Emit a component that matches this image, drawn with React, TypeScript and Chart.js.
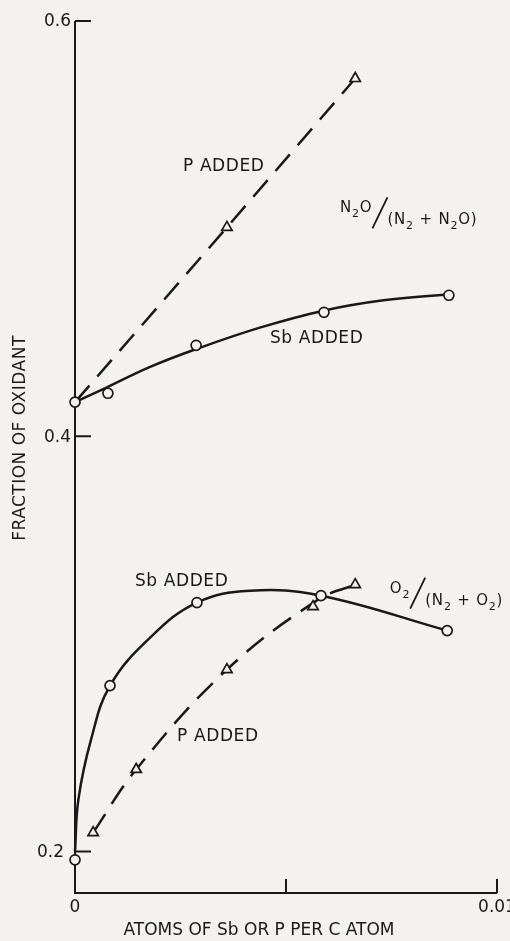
import React, { useEffect, useRef } from 'react';
import { Chart, registerables } from 'chart.js';

Chart.register(...registerables);

// ---------- axes ----------
const X_MIN = 0;
const X_MAX = 0.01;
const Y_MIN = 0.18;
const Y_MAX = 0.6;
const X_TICKS = [0, 0.005, 0.01];
const X_TICK_LABELS = ['0', '', '0.01'];
const Y_TICKS = [0.2, 0.4, 0.6];
const Y_TICK_LABELS = ['0.2', '0.4', '0.6'];
const X_TITLE = 'ATOMS OF Sb OR P PER C ATOM';
const Y_TITLE = 'FRACTION OF OXIDANT';

// ---------- N2O/(N2+N2O), Sb added (circles + solid curve) ----------
const n2oSbX = [0, 0.00078, 0.00287, 0.0059, 0.00886];
const n2oSbY = [0.4164, 0.4207, 0.4438, 0.4597, 0.4679];
const n2oSbCurveX = [0, 0.00077, 0.00178, 0.00286, 0.00438, 0.00591, 0.00731, 0.00886];
const n2oSbCurveY = [0.4164, 0.4237, 0.4334, 0.4419, 0.4523, 0.4606, 0.4655, 0.4684];

// ---------- N2O/(N2+N2O), P added (triangles + dashed line) ----------
const n2oPX = [0.0036, 0.00664];
const n2oPY = [0.5006, 0.5723];
const n2oPLineX = [0, 0.0036, 0.00664];
const n2oPLineY = [0.4164, 0.5006, 0.5723];

// ---------- O2/(N2+O2), Sb added (circles + solid curve) ----------
const o2SbX = [0, 0.00083, 0.00289, 0.00583, 0.00882];
const o2SbY = [0.196, 0.2799, 0.3199, 0.3232, 0.3064];
const o2SbCurveX = [0, 0.00008, 0.00038, 0.00083, 0.00178, 0.00289, 0.00415, 0.00583, 0.00882];
const o2SbCurveY = [0.2, 0.225, 0.2539, 0.2799, 0.303, 0.3199, 0.3256, 0.3232, 0.3064];

// ---------- O2/(N2+O2), P added (triangles + dashed curve) ----------
const o2PX = [0.00043, 0.00145, 0.0036, 0.00564, 0.00664];
const o2PY = [0.2091, 0.2395, 0.2876, 0.3179, 0.3285];
const o2PLineX = [0.00043, 0.00145, 0.0036, 0.00576, 0.00664];
const o2PLineY = [0.2091, 0.2395, 0.2876, 0.3213, 0.3285];

// ---------- annotations ----------
const LABEL_TEXT = ['P ADDED', 'Sb ADDED', 'Sb ADDED', 'P ADDED'];
const LABEL_X = [0.00256, 0.00462, 0.00142, 0.00242];
const LABEL_Y = [0.53, 0.4472, 0.33, 0.2554];

const BG = '#f3f2ee';
const INK = '#191919';
const FONT = '"DejaVu Sans", sans-serif';
const Y_LABEL_GAP = [11, 4, 4];

const zip = (xs: number[], ys: number[]) => xs.map((x, i) => ({ x, y: ys[i] }));

type Run = { t: string; sub?: boolean };

function drawRuns(ctx: CanvasRenderingContext2D, x: number, base: number, runs: Run[]) {
  let cx = x;
  for (const r of runs) {
    ctx.font = r.sub ? `11px ${FONT}` : `15px ${FONT}`;
    ctx.fillText(r.t, cx, r.sub ? base + 5 : base);
    cx += ctx.measureText(r.t).width;
  }
  return cx;
}

function drawFraction(ctx: CanvasRenderingContext2D, left: number, base: number, num: Run[], den: Run[]) {
  ctx.textAlign = 'left';
  ctx.textBaseline = 'alphabetic';
  const end = drawRuns(ctx, left, base - 12, num);
  const sx = end;
  ctx.beginPath();
  ctx.lineWidth = 1.8;
  ctx.moveTo(sx, base + 4);
  ctx.lineTo(sx + 15, base - 27);
  ctx.stroke();
  drawRuns(ctx, sx + 15, base, den);
}

const axesPlugin = {
  id: 'paperAxes',
  beforeDatasetsDraw(chart: any) {
    const { ctx } = chart;
    const xs = chart.scales.x;
    const ys = chart.scales.y;
    const x0 = xs.getPixelForValue(X_MIN);
    const x1 = xs.getPixelForValue(X_MAX);
    const yb = ys.getPixelForValue(Y_MIN);
    const yt = ys.getPixelForValue(Y_MAX);
    ctx.save();
    ctx.strokeStyle = INK;
    ctx.fillStyle = INK;
    ctx.lineWidth = 2;
    ctx.beginPath();
    ctx.moveTo(x0, yt);
    ctx.lineTo(x0, yb);
    ctx.lineTo(x1, yb);
    ctx.stroke();
    ctx.beginPath();
    Y_TICKS.forEach((v) => {
      const py = ys.getPixelForValue(v);
      ctx.moveTo(x0, py);
      ctx.lineTo(x0 + 16, py);
    });
    X_TICKS.forEach((v) => {
      if (v === X_MIN) return;
      const px = xs.getPixelForValue(v);
      ctx.moveTo(px, yb);
      ctx.lineTo(px, yb - 14);
    });
    ctx.stroke();

    ctx.font = `17px ${FONT}`;
    ctx.textAlign = 'right';
    ctx.textBaseline = 'middle';
    Y_TICKS.forEach((v, i) => {
      ctx.fillText(Y_TICK_LABELS[i], x0 - Y_LABEL_GAP[i], ys.getPixelForValue(v) + 1);
    });
    ctx.textAlign = 'center';
    X_TICKS.forEach((v, i) => {
      if (X_TICK_LABELS[i]) ctx.fillText(X_TICK_LABELS[i], xs.getPixelForValue(v), yb + 15);
    });

    // axis titles
    ctx.fillText(X_TITLE, (x0 + x1) / 2 - 27, yb + 38);
    ctx.save();
    (ctx as any).letterSpacing = '0.5px';
    ctx.translate(21, (yt + yb) / 2 - 19);
    ctx.rotate(-Math.PI / 2);
    ctx.fillText(Y_TITLE, 0, 0);
    ctx.restore();
    ctx.restore();
  },
  afterDatasetsDraw(chart: any) {
    const { ctx } = chart;
    const xs = chart.scales.x;
    const ys = chart.scales.y;
    ctx.save();
    ctx.fillStyle = INK;
    ctx.strokeStyle = INK;
    ctx.font = `17px ${FONT}`;
    (ctx as any).letterSpacing = '0.6px';
    ctx.textAlign = 'left';
    ctx.textBaseline = 'middle';
    LABEL_TEXT.forEach((t, i) => {
      ctx.fillText(t, xs.getPixelForValue(LABEL_X[i]), ys.getPixelForValue(LABEL_Y[i]));
    });
    (ctx as any).letterSpacing = '0.8px';
    drawFraction(
      ctx,
      xs.getPixelForValue(0.00628),
      ys.getPixelForValue(0.502),
      [{ t: 'N' }, { t: '2', sub: true }, { t: 'O' }],
      [{ t: '(N' }, { t: '2', sub: true }, { t: ' + N' }, { t: '2', sub: true }, { t: 'O)' }]
    );
    drawFraction(
      ctx,
      xs.getPixelForValue(0.00746),
      ys.getPixelForValue(0.3189),
      [{ t: 'O' }, { t: '2', sub: true }],
      [{ t: '(N' }, { t: '2', sub: true }, { t: ' + O' }, { t: '2', sub: true }, { t: ')' }]
    );
    ctx.restore();
  },
};

const lineDs = (xs: number[], ys: number[], dashed: boolean, tension: number) => ({
  data: zip(xs, ys),
  borderColor: INK,
  borderWidth: 2.5,
  borderDash: dashed ? [22, 12] : [],
  pointRadius: 0,
  tension,
  fill: false,
  clip: false as const,
  order: 2,
});

const markerDs = (xs: number[], ys: number[], style: 'circle' | 'triangle') => ({
  data: zip(xs, ys),
  showLine: false,
  pointStyle: style,
  pointRadius: style === 'circle' ? 5 : 6,
  pointBorderWidth: 1.7,
  pointBorderColor: INK,
  pointBackgroundColor: BG,
  clip: false as const,
  order: 1,
});

export default function App() {
  const ref = useRef<HTMLCanvasElement>(null);
  useEffect(() => {
    if (!ref.current) return;
    const chart = new Chart(ref.current, {
      type: 'line',
      data: {
        datasets: [
          lineDs(n2oSbCurveX, n2oSbCurveY, false, 0.4),
          lineDs(n2oPLineX, n2oPLineY, true, 0),
          lineDs(o2SbCurveX, o2SbCurveY, false, 0.4),
          lineDs(o2PLineX, o2PLineY, true, 0.4),
          markerDs(n2oSbX, n2oSbY, 'circle'),
          markerDs(n2oPX, n2oPY, 'triangle'),
          markerDs(o2SbX, o2SbY, 'circle'),
          markerDs(o2PX, o2PY, 'triangle'),
        ] as any,
      },
      options: {
        responsive: false,
        maintainAspectRatio: false,
        animation: false,
        layout: { padding: { left: 75, right: 13, top: 21, bottom: 48 } },
        scales: {
          x: { type: 'linear', min: X_MIN, max: X_MAX, display: false },
          y: { type: 'linear', min: Y_MIN, max: Y_MAX, display: false },
        },
        plugins: { legend: { display: false }, tooltip: { enabled: false } },
        events: [],
      },
      plugins: [axesPlugin],
    });
    return () => chart.destroy();
  }, []);
  return (
    <div style={{ position: 'fixed', left: 0, top: 0, width: 510, height: 941, background: BG, overflow: 'hidden' }}>
      <canvas ref={ref} width={510} height={941} style={{ display: 'block', width: 510, height: 941 }} />
    </div>
  );
}
